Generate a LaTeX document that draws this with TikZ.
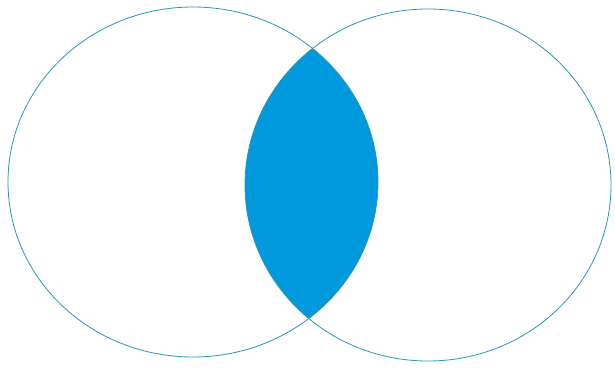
\documentclass[tikz,border=0pt]{standalone}
\usepackage{tikz}
\definecolor{setline}{RGB}{40,150,180}
\definecolor{setfill}{RGB}{0,153,221}

\begin{document}
\begin{tikzpicture}[
    x=1pt, y=-1pt,
    setA/.style={draw=setline, line width=0.8pt},
    overlap/.style={fill=setfill}
  ]
    \useasboundingbox (0,0) rectangle (615,367);
    % shaded intersection
    \begin{scope}
      \clip (193,182) ellipse [x radius=185, y radius=175];
      \fill[overlap] (428,185) ellipse [x radius=183, y radius=176];
    \end{scope}
    % the two sets
    \draw[setA] (193,182) ellipse [x radius=185, y radius=175];
    \draw[setA] (428,185) ellipse [x radius=183, y radius=176];
  \end{tikzpicture}
\end{document}
